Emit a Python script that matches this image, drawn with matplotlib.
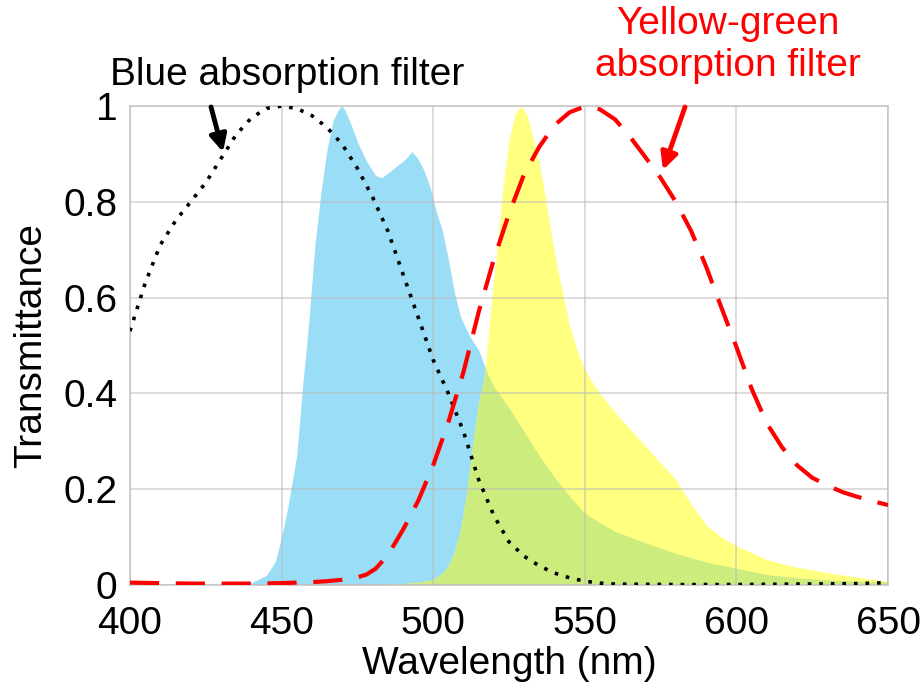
import numpy as np
import matplotlib.pyplot as plt

plt.rcParams['font.family'] = ['Liberation Sans', 'DejaVu Sans']

# blue-emitting spectrum (filled, light blue)
blue_nm = [430, 435, 440, 445, 448, 450, 452, 455, 457, 459, 461, 463, 465, 467, 469, 470,
           471, 473, 475, 478, 481, 483, 485, 488, 491, 493, 495, 497, 499, 501, 503, 505,
           507, 509, 512, 515, 518, 520, 525, 530, 535, 540, 545, 550, 555, 560, 565, 570,
           580, 590, 600, 610, 620, 630, 640, 650]
blue_val = [0, 0.002, 0.005, 0.02, 0.05, 0.10, 0.16, 0.27, 0.42, 0.55, 0.71, 0.82, 0.91, 0.97, 0.995, 1.0,
            0.99, 0.96, 0.925, 0.885, 0.855, 0.85, 0.86, 0.875, 0.89, 0.905, 0.89, 0.865, 0.83, 0.78, 0.74, 0.68,
            0.61, 0.56, 0.52, 0.49, 0.44, 0.415, 0.37, 0.32, 0.27, 0.225, 0.185, 0.15, 0.13, 0.112, 0.10, 0.088,
            0.066, 0.048, 0.035, 0.022, 0.015, 0.011, 0.008, 0.007]

# yellow-green spectrum (filled, yellow)
yellow_nm = [480, 490, 495, 500, 503, 505, 507, 509, 511, 513, 515, 517, 519, 521, 523, 525,
             527, 529, 531, 533, 535, 537, 539, 541, 543, 545, 548, 550, 552, 555, 560, 565,
             570, 575, 580, 585, 590, 595, 600, 610, 620, 630, 640, 650]
yellow_val = [0, 0.003, 0.006, 0.011, 0.025, 0.04, 0.07, 0.115, 0.19, 0.29, 0.38, 0.44, 0.58, 0.70, 0.83, 0.93,
              0.985, 1.0, 0.98, 0.93, 0.88, 0.81, 0.73, 0.66, 0.60, 0.54, 0.48, 0.45, 0.428, 0.40, 0.36, 0.325,
              0.29, 0.255, 0.22, 0.17, 0.125, 0.10, 0.082, 0.053, 0.037, 0.026, 0.016, 0.008]

# blue absorption filter (black dotted)
bf_nm = [400, 405, 410, 415, 420, 425, 430, 435, 440, 445, 450, 455, 460, 465, 470, 475, 480,
         485, 490, 495, 500, 505, 510, 515, 520, 525, 530, 535, 540, 545, 550, 555, 560, 580,
         600, 620, 640, 650]
bf_val = [0.53, 0.63, 0.71, 0.76, 0.80, 0.84, 0.89, 0.94, 0.975, 0.995, 1.0, 0.995, 0.98, 0.955, 0.92, 0.87, 0.81,
          0.74, 0.65, 0.56, 0.47, 0.40, 0.32, 0.22, 0.145, 0.09, 0.06, 0.04, 0.025, 0.015, 0.008, 0.004, 0.002, 0.001,
          0.001, 0.002, 0.003, 0.005]

# yellow-green absorption filter (red dashed)
yf_nm = [400, 420, 440, 450, 460, 465, 470, 475, 478, 481, 484, 487, 490, 495, 500, 505, 510, 515, 520,
         525, 530, 535, 540, 545, 550, 555, 560, 565, 570, 575, 580, 585, 590, 595, 600, 605,
         610, 615, 620, 625, 630, 635, 640, 645, 650]
yf_val = [0.005, 0.003, 0.003, 0.004, 0.006, 0.008, 0.011, 0.016, 0.022, 0.034, 0.055, 0.083, 0.115, 0.175, 0.25, 0.34,
          0.445, 0.57, 0.68, 0.775, 0.858, 0.915, 0.96, 0.987, 0.999, 0.993, 0.972, 0.935, 0.893, 0.85, 0.80, 0.74,
          0.665, 0.58, 0.497, 0.41, 0.338, 0.288, 0.25, 0.224, 0.208, 0.194, 0.184, 0.175, 0.167]

xticks = [400, 450, 500, 550, 600, 650]
yticks = [0, 0.2, 0.4, 0.6, 0.8, 1]
ytick_labels = ['0', '0.2', '0.4', '0.6', '0.8', '1']

fig = plt.figure(figsize=(9.21, 6.93), dpi=100)
ax = fig.add_axes([0.1411, 0.1558, 0.8231, 0.6912])

grid = np.linspace(400, 650, 1001)
b = np.interp(grid, blue_nm, blue_val, left=0, right=0)
yv = np.interp(grid, yellow_nm, yellow_val, left=0, right=0)
ov = np.minimum(b, yv)

ax.fill_between(grid, 0, b, color='#99DDF6', lw=0, zorder=1)
ax.fill_between(grid, 0, yv, color='#FFFF80', lw=0, zorder=1)
ax.fill_between(grid, 0, ov, color='#CDEC7E', lw=0, zorder=1)

ax.plot(bf_nm, bf_val, color='black', ls=(0, (1, 2.2)), lw=2.6, zorder=4)
ax.plot(yf_nm, yf_val, color='#FF0000', ls=(0, (7, 4)), lw=3, zorder=4)

ax.set_xlim(400, 650)
ax.set_ylim(0, 1)
ax.set_xticks(xticks)
ax.set_yticks(yticks)
ax.set_yticklabels(ytick_labels)
ax.tick_params(length=0, labelsize=28)
ax.tick_params(axis='y', pad=9)
ax.tick_params(axis='x', pad=15)
ax.grid(True, color='#BBBBBB', alpha=0.6, lw=1.2, zorder=3)
ax.set_axisbelow(False)
for s in ax.spines.values():
    s.set_color('#CCCCCC')
    s.set_linewidth(1.2)

ax.set_xlabel('Wavelength (nm)', fontsize=28, labelpad=3)
ax.set_ylabel('Transmittance', fontsize=28, labelpad=10)

fig.text(0.3116, 0.892, 'Blue absorption filter', fontsize=28, ha='center', va='center')
fig.text(0.79, 0.935, 'Yellow-green\nabsorption filter', fontsize=28, ha='center', va='center',
         color='#FF0000')

ax.annotate('', xy=(223, 541), xycoords='figure pixels', xytext=(211, 586),
            textcoords='figure pixels',
            arrowprops=dict(arrowstyle='-|>', color='black', lw=3.5, mutation_scale=25,
                            shrinkA=0, shrinkB=0))
ax.annotate('', xy=(663, 523), xycoords='figure pixels', xytext=(685, 586),
            textcoords='figure pixels',
            arrowprops=dict(arrowstyle='-|>', color='#FF0000', lw=3.5, mutation_scale=25,
                            shrinkA=0, shrinkB=0))

fig.savefig('out.png', dpi=100)
